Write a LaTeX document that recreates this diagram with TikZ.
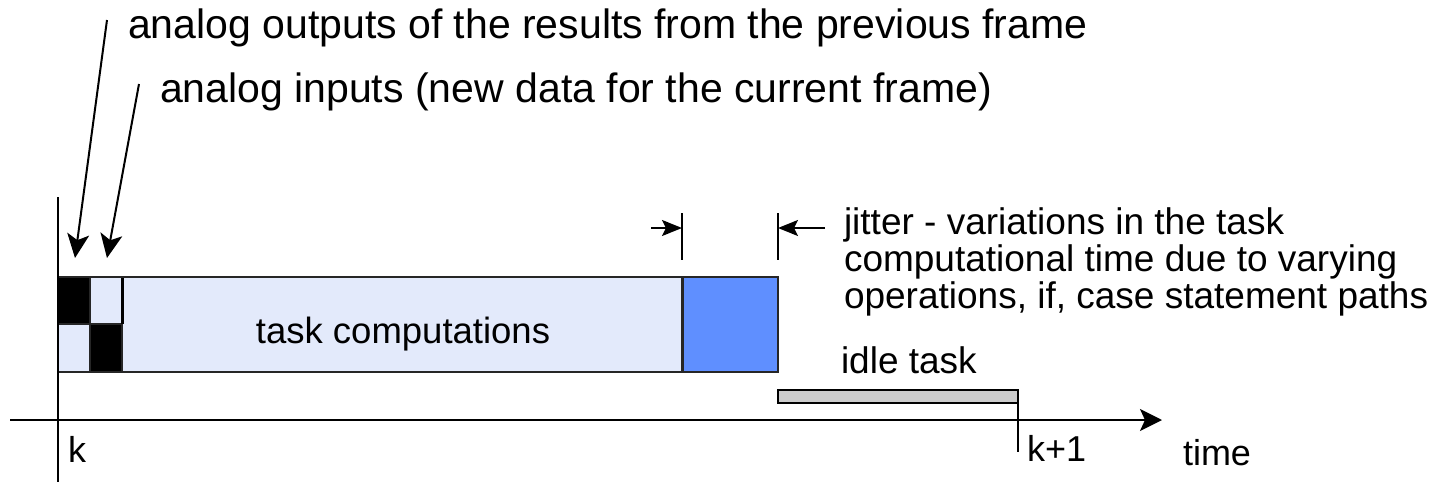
\documentclass[tikz,border=0pt]{standalone}
\usepackage{fontspec}
\setmainfont{Liberation Sans}
\usetikzlibrary{arrows.meta}
\definecolor{cellblue}{HTML}{E3EAFB}
\definecolor{jitblue}{HTML}{5F8FFF}
\definecolor{idlegray}{HTML}{CCCCCC}
\begin{document}
\begin{tikzpicture}[x=1pt,y=-1pt,line width=2pt,
  big/.style={font=\fontsize{41}{49}\selectfont,inner sep=0pt,anchor=base west},
  lbl/.style={font=\fontsize{37}{44}\selectfont,inner sep=0pt,anchor=base west},
  pointer/.style={-{Stealth[length=24pt,width=22pt,inset=6pt]},line width=2pt},
  jitarrow/.style={-{Stealth[length=20pt,width=16pt,inset=4pt]},line width=2pt},
  frame/.style={line width=1.6pt,draw=black!85}]
\useasboundingbox (0,0) rectangle (1444,482);

% task frame: I/O cells, computation and jitter part
\fill[cellblue] (58,277) rectangle (682,372);
\fill[black] (58,277) rectangle (90,324);
\fill[black] (90,324) rectangle (122,372);
\fill[jitblue] (682,277) rectangle (778,372);
\draw[frame] (90,277) -- (90,372);
\draw[frame] (58,324) -- (122,324);
\draw[line width=3pt] (122,277) -- (122,324);
\draw[frame] (122,324) -- (122,372);
\draw[line width=3pt,draw=black!85] (682,277) -- (682,372);
\draw[frame] (58,277) rectangle (778,372);
\node[font=\fontsize{36.5}{44}\selectfont,inner sep=0pt,anchor=base] (task) at (403,343) {task computations};

% time axis and frame start
\coordinate (axstart) at (10,420);
\coordinate (axend) at (1162,420);
\draw[-{Stealth[length=22pt,width=22pt,inset=5pt]}] (axstart) -- (axend);
\coordinate (ktop) at (58,197);
\coordinate (kbot) at (58,482);
\draw (ktop) -- (kbot);
\node[lbl,font=\fontsize{36}{44}\selectfont] (k) at (67,462) {k};

% idle task and next frame
\draw[line width=2pt,fill=idlegray] (778,390) rectangle (1018,403);
\coordinate (k1top) at (1018,390);
\coordinate (k1bot) at (1018,452);
\draw (k1top) -- (k1bot);
\node[lbl,font=\fontsize{36}{44}\selectfont] (k1) at (1026,461) {k+1};
\node[lbl,font=\fontsize{36}{44}\selectfont] (time) at (1182,465) {time};
\node[lbl] (idle) at (840,373) {idle task};

% I/O annotations
\node[big] (outtxt) at (127,38) {analog outputs of the results from the previous frame};
\node[big] (intxt) at (159,102) {analog inputs (new data for the current frame)};
\coordinate (outtail) at (107,20);
\coordinate (outtip) at (75,258);
\coordinate (intail) at (139,84);
\coordinate (intip) at (107,258);
\draw[pointer] (outtail) -- (outtip);
\draw[pointer] (intail) -- (intip);

% jitter markers
\coordinate (j1top) at (682,213);
\coordinate (j1bot) at (682,260);
\coordinate (j2top) at (778,213);
\coordinate (j2bot) at (778,260);
\draw (j1top) -- (j1bot);
\draw (j2top) -- (j2bot);
\coordinate (j1tail) at (651,228);
\coordinate (j1tip) at (682,228);
\coordinate (j2tail) at (825,228);
\coordinate (j2tip) at (778,228);
\draw[jitarrow] (j1tail) -- (j1tip);
\draw[jitarrow] (j2tail) -- (j2tip);
\node[lbl] (jit1) at (843,234) {jitter - variations in the task};
\node[lbl] (jit2) at (843,271) {computational time due to varying};
\node[lbl] (jit3) at (843,308) {operations, if, case statement paths};
\end{tikzpicture}
\end{document}
